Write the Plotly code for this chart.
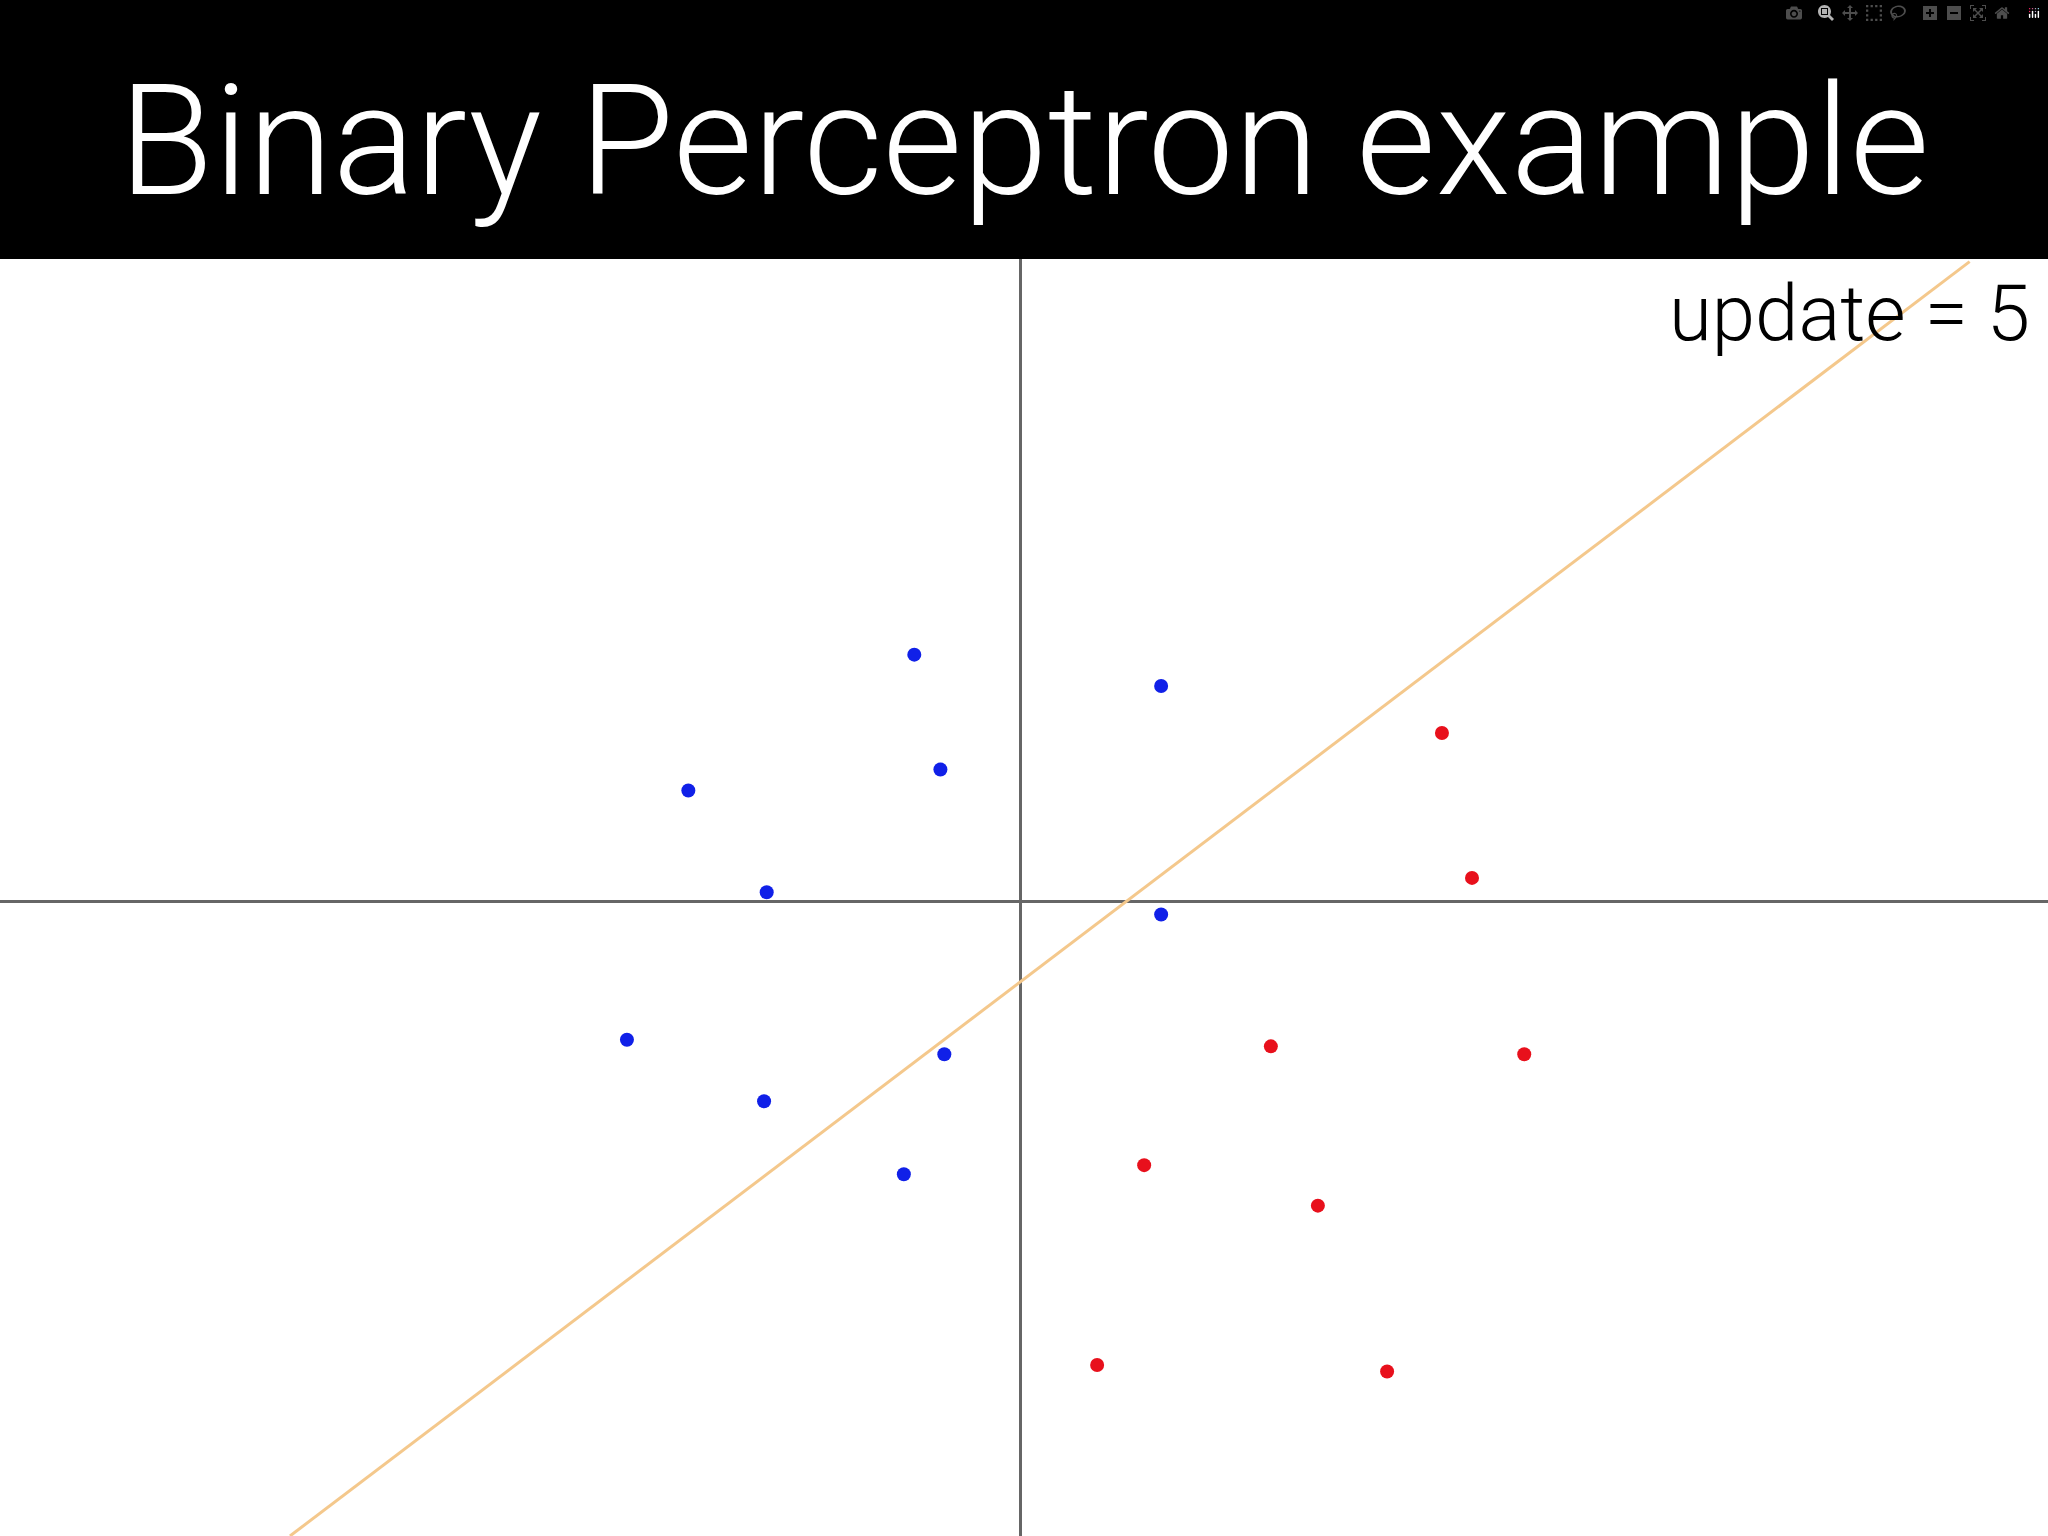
import plotly.graph_objects as go

# ── Data (plot units, origin at axis crossing) ──
blue_x = [-0.81, 1.08, -0.61, -2.54, -1.94, 1.08, -3.01, -0.58, -1.96, -0.89]
blue_y = [1.89, 1.65, 1.01, 0.85, 0.07, -0.10, -1.06, -1.17, -1.53, -2.09]
red_x = [3.23, 3.46, 1.92, 3.86, 0.95, 2.28, 0.59, 2.81]
red_y = [1.29, 0.18, -1.11, -1.17, -2.02, -2.33, -3.55, -3.60]
line_x = [-5.59, 7.27]
line_y = [-4.86, 4.90]

fig = go.Figure()

fig.add_trace(go.Scatter(
    x=line_x, y=line_y, mode='lines',
    line=dict(color='#F4C88C', width=3), hoverinfo='skip'
))
fig.add_trace(go.Scatter(
    x=blue_x, y=blue_y, mode='markers',
    marker=dict(color='#1020E8', size=14)
))
fig.add_trace(go.Scatter(
    x=red_x, y=red_y, mode='markers',
    marker=dict(color='#E8101C', size=14)
))

# ── Layout ──
fig.update_layout(
    width=2048, height=1536,
    margin=dict(l=0, r=0, t=259, b=0),
    paper_bgcolor='black',
    plot_bgcolor='white',
    showlegend=False,
    font=dict(family='Roboto'),
)
fig.update_xaxes(range=[-7.81, 7.87], showgrid=False, showticklabels=False,
                 zeroline=True, zerolinecolor='#666666', zerolinewidth=3)
fig.update_yaxes(range=[-4.86, 4.92], showgrid=False, showticklabels=False,
                 zeroline=True, zerolinecolor='#666666', zerolinewidth=3)

fig.add_annotation(
    text='Binary Perceptron example', xref='paper', yref='paper',
    x=0.5, y=1.092, xanchor='center', yanchor='middle', showarrow=False,
    font=dict(size=154, color='white', weight=300)
)
fig.add_annotation(
    text='update = 5', xref='paper', yref='paper',
    x=0.992, y=0.957, xanchor='right', yanchor='middle', showarrow=False,
    font=dict(size=78, color='black', weight=300)
)

fig.write_html("out.html", post_script="document.body.style.margin='0';")
